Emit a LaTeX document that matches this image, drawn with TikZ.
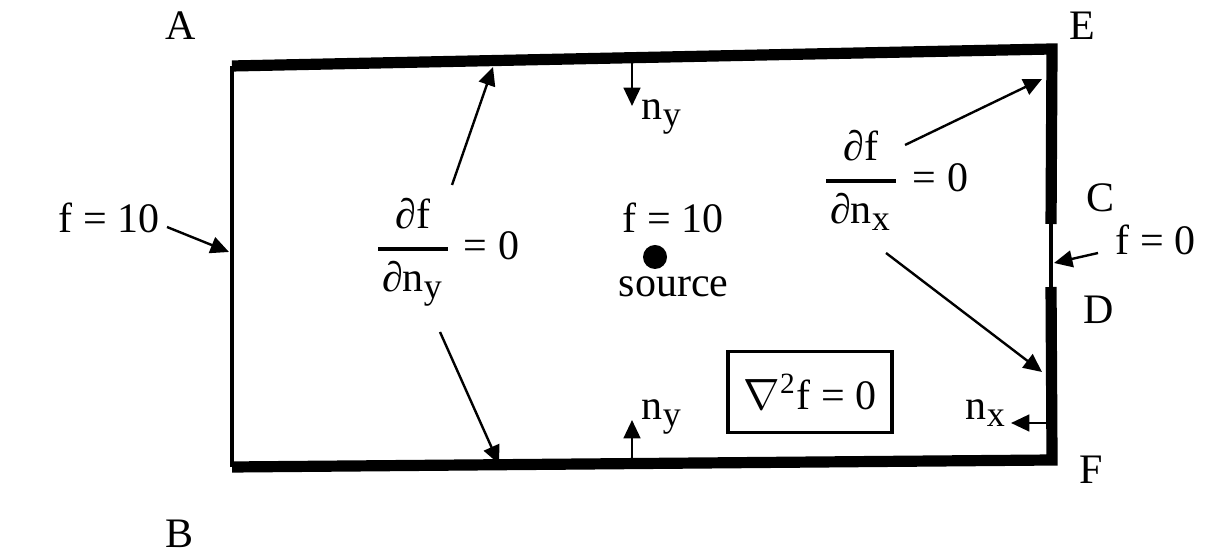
\documentclass[tikz,border=0pt]{standalone}
\usepackage{amsmath}
\usepackage{fontspec}
\setmainfont{Liberation Serif}
\usetikzlibrary{arrows.meta}
\begin{document}
\begin{tikzpicture}[x=0.25pt,y=-0.25pt,
    wall/.style={line width=2.8pt,line join=miter},
    side/.style={line width=0.8pt},
    arr/.style={line width=0.6pt,-{Triangle[length=4.6pt,width=4.2pt]}},
    every node/.style={font=\fontsize{10.5}{12}\selectfont,inner sep=0pt}]
    \useasboundingbox (0,0) rectangle (1205,552);
    % region boundary
    \coordinate (tl) at (232,66);
    \coordinate (tr) at (1052,49);
    \coordinate (c) at (1051,224);
    \coordinate (d) at (1051,287);
    \coordinate (br) at (1052,460);
    \coordinate (bl) at (232,467);
    \draw[side] (tl) -- (bl);
    \draw[side] (c) -- (d);
    \draw[wall] (tl) -- (tr) -- (c);
    \draw[wall] (d) -- (br) -- (bl);
    \foreach \n/\x/\y in {A/181/26,B/180/534,C/1100/198,D/1099/310,E/1082/26,F/1091/470}
      \node (lab\n) at (\x,\y) {\n};
    % boundary values and source
    \node[anchor=base west] (fleft) at (58,233) {f = 10};
    \node[anchor=base west] (fright) at (1115,255) {f = 0};
    \node[anchor=base west] (fsrc) at (622,233) {f = 10};
    \node[circle,fill,minimum size=6pt] (src) at (655,257) {};
    \node[anchor=base west] (lsrc) at (618,297) {source};
    \node[draw,line width=0.8pt,minimum width=41pt,minimum height=20.25pt] (lap) at (810,392)
      {$\nabla^{\text{2}}$f = 0};
    % Neumann conditions
    \node[anchor=base] (dfy) at (413,260)
      {$\genfrac{}{}{0.9pt}{0}{\text{∂f}\rule[-2pt]{0pt}{0pt}}{\hspace{1pt}\text{∂n}_{\text{\small y}}\hspace{1pt}}$};
    \node[anchor=base west] (eqy) at (463,260) {= 0};
    \node[anchor=base] (dfx) at (861,192)
      {$\genfrac{}{}{0.9pt}{0}{\text{∂f}\rule[-2pt]{0pt}{0pt}}{\hspace{1pt}\text{∂n}_{\text{\small x}}\hspace{1pt}}$};
    \node[anchor=base west] (eqx) at (912,192) {= 0};
    \node[anchor=base west] (nyt) at (641,120) {n$_{\text{\small y}}$};
    \node[anchor=base west] (nyb) at (641,420) {n$_{\text{\small y}}$};
    \node[anchor=base west] (nx) at (965,420) {n$_{\text{\small x}}$};
    % arrow ends
    \foreach \n/\x/\y in {t1/167/227,h1/229/252,t2/1098/253,h2/1054/263,
        t3/452/185,h3/493/67,t4/440/332,h4/499/464,t5/905/145,h5/1042/79,
        t6/886/253,h6/1042/372,t7/632/62,h7/632/106,t8/632/463,h8/632/420,
        t9/1048/423,h9/1011/423}
      \coordinate (\n) at (\x,\y);
    \foreach \i in {1,...,9}
      \draw[arr] (t\i) -- (h\i);
  \end{tikzpicture}
\end{document}
